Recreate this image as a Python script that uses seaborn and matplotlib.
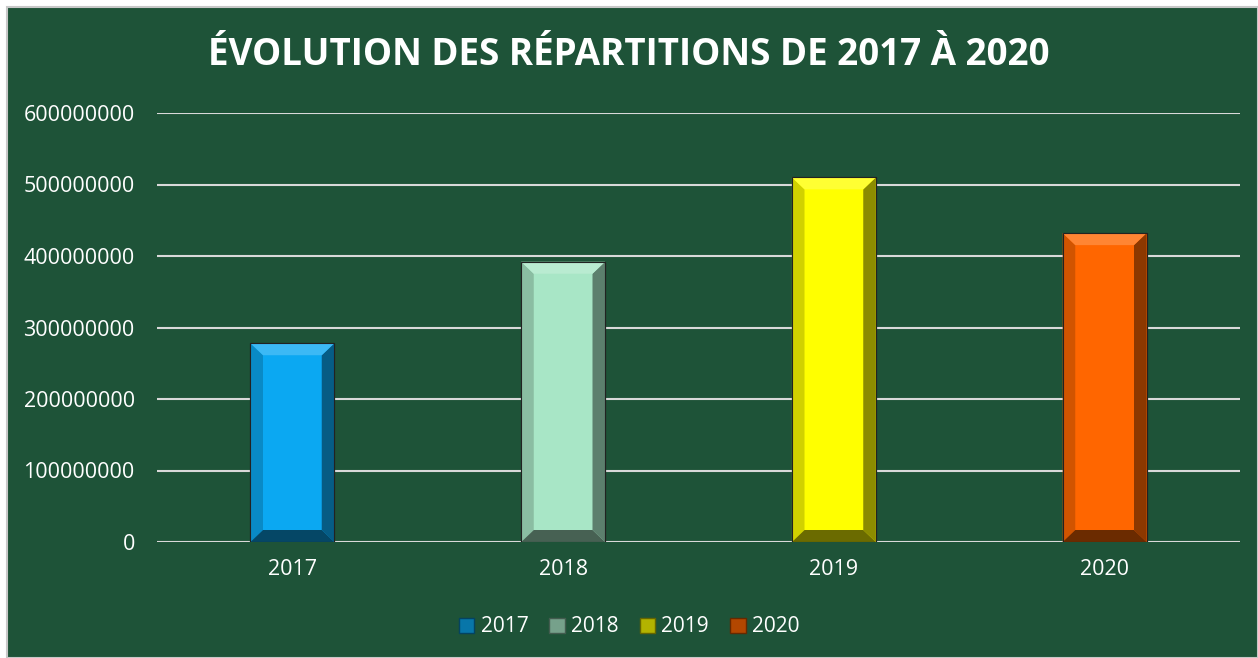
import numpy as np
import pandas as pd
import seaborn as sns
import matplotlib.pyplot as plt
from matplotlib.patches import Polygon, Patch, Rectangle
from matplotlib.colors import to_rgb

years = ["2017", "2018", "2019", "2020"]
values = [278000000, 392000000, 510000000, 432000000]
colors = ["#0BA8F2", "#A8E6C6", "#FFFF00", "#FF6600"]

bg = "#1E5338"
txt = "white"
plt.rcParams['font.family'] = ['Open Sans', 'DejaVu Sans']

df = pd.DataFrame({"year": years, "value": values})

fig = plt.figure(figsize=(12.58, 6.58), dpi=100, facecolor="white")
fig.patches.append(Rectangle((7 / 1258, 0), 1 - 7 / 1258, 1 - 7 / 658, transform=fig.transFigure,
                             facecolor=bg, edgecolor="#C8C8C8", linewidth=1.5, zorder=-10))
ax = fig.add_axes([157 / 1258, 1 - 542 / 658, (1240 - 157) / 1258, (542 - 113) / 658])
ax.set_facecolor(bg)

sns.barplot(data=df, x="year", y="value", hue="year", palette=colors, width=0.31, saturation=1,
            legend=False, ax=ax, zorder=3, edgecolor="#222222", linewidth=0.8)


def shade(c, f):
    r = np.array(to_rgb(c))
    if f >= 1:
        return tuple(r + (1 - r) * (f - 1))
    return tuple(r * f)


# bevel facets on each bar
dy = 600000000 / 429 * 12
for p, c in zip(ax.patches, colors):
    x0, w, h = p.get_x(), p.get_width(), p.get_height()
    x1 = x0 + w
    dx = w * 0.15
    top = [(x0, h), (x1, h), (x1 - dx, h - dy), (x0 + dx, h - dy)]
    bot = [(x0, 0), (x1, 0), (x1 - dx, dy), (x0 + dx, dy)]
    left = [(x0, 0), (x0, h), (x0 + dx, h - dy), (x0 + dx, dy)]
    right = [(x1, 0), (x1, h), (x1 - dx, h - dy), (x1 - dx, dy)]
    for poly, f in [(left, 0.82), (right, 0.55), (bot, 0.42), (top, 1.2)]:
        ax.add_patch(Polygon(poly, closed=True, facecolor=shade(c, f), edgecolor="none", zorder=4))
    ax.add_patch(Rectangle((x0, 0), w, h, facecolor="none", edgecolor="#222222", linewidth=0.8, zorder=5))

ax.set_ylim(0, 600000000)
ax.set_yticks(np.arange(0, 600000001, 100000000))
ax.set_yticklabels([str(v) for v in range(0, 600000001, 100000000)])
ax.yaxis.grid(True, color="#D9D9D9", linewidth=1.5, zorder=0)
ax.set_axisbelow(True)
for s in ax.spines.values():
    s.set_visible(False)
ax.tick_params(axis="both", length=0, colors=txt, labelsize=15.5)
ax.tick_params(axis="y", pad=16)
ax.tick_params(axis="x", pad=12)
ax.set_xlabel("")
ax.set_ylabel("")

fig.text(0.5, 1 - 55 / 658, "ÉVOLUTION DES RÉPARTITIONS DE 2017 À 2020", ha="center", va="center",
         color=txt, fontsize=26.5, fontweight="bold")

handles = [Patch(facecolor=shade(c, 0.7), edgecolor=shade(c, 0.4)) for c in colors]
fig.legend(handles, years, loc="center", bbox_to_anchor=(0.5, 1 - 627 / 658), ncol=4, frameon=False,
           fontsize=15, labelcolor=txt, handlelength=0.75, handleheight=0.75, handletextpad=0.3,
           columnspacing=1.0)

fig.savefig("out.png", dpi=100, facecolor=fig.get_facecolor())
